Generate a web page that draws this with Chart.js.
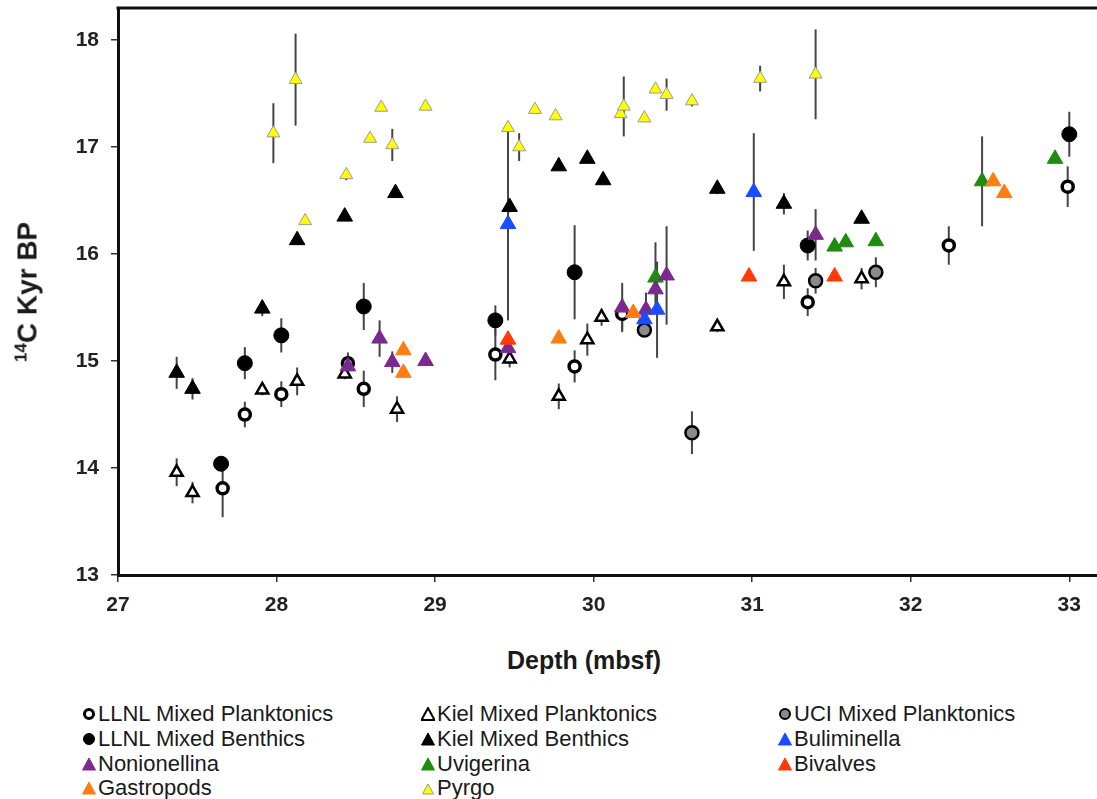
<!DOCTYPE html>
<html>
<head>
<meta charset="utf-8">
<script src="https://cdn.jsdelivr.net/npm/chart.js@4.4.1/dist/chart.umd.min.js"></script>
<style>
  html, body { margin: 0; padding: 0; background: #fff; overflow: hidden; width: 1097px; height: 799px; }
  body { position: relative; font-family: 'Liberation Sans', Arial, sans-serif; color: #1a1a1a; }
  #wrap { position: absolute; left: 0; top: 0; width: 1101px; height: 640px; }
  .ytitle { position: absolute; left: 27px; top: 292px; transform: translate(-50%, -50%) rotate(-90deg);
            font-weight: bold; font-size: 28px; white-space: nowrap; line-height: 1; }
  .ytitle sup { font-size: 17px; vertical-align: 10px; }
  .xtitle { position: absolute; left: 584px; top: 660px; transform: translate(-50%, -50%);
            font-weight: bold; font-size: 25px; white-space: nowrap; }
  .leg { position: absolute; display: flex; align-items: center; font-size: 22px; white-space: nowrap; height: 25px; }
  .leg svg { margin-right: 2px; }
</style>
</head>
<body>
<div id="wrap"><canvas id="chart"></canvas></div>
<div class="ytitle"><sup>14</sup>C Kyr BP</div>
<div class="xtitle">Depth (mbsf)</div>
<div id="legend"></div>
<script>
// [depth mbsf, 14C kyr BP, error]
const llnlPlanktonics = [
  [27.66, 13.81, 0.27], [27.80, 14.50, 0.12], [28.03, 14.69, 0.12], [28.45, 14.98, 0.10],
  [28.55, 14.74, 0.17], [29.38, 15.06, 0.24], [29.88, 14.95, 0.15], [30.18, 15.44, 0.15],
  [31.35, 15.55, 0.13], [32.24, 16.08, 0.18], [32.99, 16.63, 0.19]
];
const kielPlanktonics = [
  [27.37, 13.96, 0.13], [27.47, 13.77, 0.10], [27.91, 14.73, 0.05], [28.13, 14.81, 0.13],
  [28.43, 14.88, 0.05], [28.76, 14.55, 0.12], [29.47, 15.02, 0.08], [29.78, 14.67, 0.12],
  [29.96, 15.20, 0.15], [30.05, 15.41, 0.08], [30.78, 15.32, 0.05], [31.20, 15.74, 0.16],
  [31.69, 15.77, 0.10]
];
const uciPlanktonics = [
  [30.32, 15.29, 0.05], [30.62, 14.33, 0.20], [31.40, 15.75, 0.12], [31.78, 15.83, 0.14]
];
const llnlBenthics = [
  [27.65, 14.04, 0.05], [27.80, 14.98, 0.15], [28.03, 15.24, 0.16], [28.55, 15.51, 0.22],
  [29.38, 15.38, 0.14], [29.88, 15.83, 0.44], [31.35, 16.08, 0.14], [33.00, 17.12, 0.21]
];
const kielBenthics = [
  [27.37, 14.89, 0.15], [27.47, 14.74, 0.10], [27.91, 15.49, 0.07], [28.13, 16.13, 0.03],
  [28.43, 16.35, 0.03], [28.75, 16.57, 0.03], [29.47, 16.44, 0.05], [29.78, 16.82, 0.03],
  [29.96, 16.89, 0.03], [30.06, 16.69, 0.03], [30.78, 16.61, 0.05], [31.20, 16.47, 0.10],
  [31.69, 16.33, 0.03]
];
const buliminella = [
  [29.46, 16.28, 0.90], [30.32, 15.39, 0], [30.40, 15.48, 0.45], [31.01, 16.58, 0.55]
];
const nonionellina = [
  [28.45, 14.95, 0], [28.65, 15.21, 0.17], [28.73, 14.99, 0.10], [28.94, 15.00, 0],
  [29.46, 15.12, 0], [30.18, 15.50, 0.23], [30.33, 15.48, 0.16], [30.39, 15.67, 0],
  [30.46, 15.80, 0.46], [31.40, 16.18, 0.24]
];
const uvigerina = [
  [30.39, 15.78, 0.33], [31.52, 16.07, 0], [31.59, 16.11, 0], [31.78, 16.12, 0],
  [32.45, 16.68, 0.42], [32.91, 16.89, 0]
];
const bivalves = [
  [29.46, 15.20, 0], [30.98, 15.79, 0], [31.52, 15.79, 0]
];
const gastropods = [
  [28.80, 15.10, 0], [28.80, 14.89, 0], [29.78, 15.21, 0], [30.25, 15.45, 0],
  [32.52, 16.68, 0], [32.59, 16.57, 0]
];
const pyrgo = [
  [27.98, 17.13, 0.28], [28.12, 17.63, 0.43], [28.18, 16.31, 0], [28.44, 16.74, 0.05],
  [28.59, 17.08, 0], [28.66, 17.37, 0], [28.73, 17.02, 0.15], [28.94, 17.38, 0],
  [29.46, 17.18, 0], [29.53, 17.00, 0.13], [29.63, 17.35, 0], [29.76, 17.29, 0],
  [30.17, 17.31, 0], [30.19, 17.38, 0.28], [30.32, 17.27, 0], [30.39, 17.54, 0.03],
  [30.46, 17.49, 0.15], [30.62, 17.43, 0.05], [31.05, 17.64, 0.12], [31.40, 17.68, 0.42]
];

const xTicks = [27, 28, 29, 30, 31, 32, 33];
const yTicks = [13, 14, 15, 16, 17, 18];

function series(label, rows, shape, r, fill, stroke, bw, order) {
  return {
    label,
    data: rows.map(p => ({ x: p[0], y: p[1] })),
    errors: rows.map(p => p[2]),
    pointStyle: shape,
    pointRadius: r,
    pointBackgroundColor: fill,
    pointBorderColor: stroke,
    pointBorderWidth: bw,
    order
  };
}

const datasets = [
  series('LLNL Mixed Planktonics', llnlPlanktonics, 'circle', 5.5, '#fff', '#000', 3.5, 2),
  series('Kiel Mixed Planktonics', kielPlanktonics, 'triangle', 7, '#fff', '#000', 2.5, 2),
  series('UCI Mixed Planktonics', uciPlanktonics, 'circle', 6.5, '#8a8a8a', '#000', 2.5, 2),
  series('LLNL Mixed Benthics', llnlBenthics, 'circle', 7.5, '#000', '#000', 1, 2),
  series('Kiel Mixed Benthics', kielBenthics, 'triangle', 9, '#000', '#000', 1, 2),
  series('Buliminella', buliminella, 'triangle', 9, '#1a4dff', '#1a4dff', 1, 1),
  series('Nonionellina', nonionellina, 'triangle', 9, '#7a2a8c', '#7a2a8c', 1, 1),
  series('Uvigerina', uvigerina, 'triangle', 9, '#1f8c10', '#1f8c10', 1, 1),
  series('Bivalves', bivalves, 'triangle', 9, '#ff3a0a', '#ff3a0a', 1, 0),
  series('Gastropods', gastropods, 'triangle', 9, '#ff7d12', '#ff7d12', 1, 0),
  series('Pyrgo', pyrgo, 'triangle', 7.5, '#ffff00', '#9a9a9a', 1, 1)
];

// vertical error bars, drawn under the markers
const errorBars = {
  id: 'errorBars',
  beforeDatasetsDraw(chart) {
    const { ctx, scales: { x, y }, chartArea } = chart;
    ctx.save();
    ctx.beginPath();
    ctx.rect(chartArea.left, chartArea.top, chartArea.width, chartArea.height);
    ctx.clip();
    ctx.strokeStyle = '#444';
    ctx.lineWidth = 2;
    chart.data.datasets.forEach(ds => {
      ds.errors.forEach((e, j) => {
        if (!e) return;
        const p = ds.data[j];
        const px = x.getPixelForValue(p.x);
        ctx.beginPath();
        ctx.moveTo(px, y.getPixelForValue(p.y - e));
        ctx.lineTo(px, y.getPixelForValue(p.y + e));
        ctx.stroke();
      });
    });
    ctx.restore();
  }
};

// top edge of the frame
const topFrame = {
  id: 'topFrame',
  afterDraw(chart) {
    const { ctx, chartArea } = chart;
    ctx.save();
    ctx.strokeStyle = '#111';
    ctx.lineWidth = 3;
    ctx.beginPath();
    ctx.moveTo(chartArea.left - 1.5, chartArea.top);
    ctx.lineTo(chartArea.right, chartArea.top);
    ctx.stroke();
    ctx.restore();
  }
};

const tickFont = { family: "'Liberation Sans', Arial, sans-serif", size: 21, weight: 'bold' };

new Chart(document.getElementById('chart'), {
  type: 'scatter',
  data: { datasets },
  options: {
    responsive: true,
    maintainAspectRatio: false,
    animation: false,
    layout: { autoPadding: false, padding: { top: 8, left: 0, right: 0, bottom: 0 } },
    plugins: { legend: { display: false }, tooltip: { enabled: false } },
    scales: {
      x: {
        type: 'linear',
        min: 27, max: 33.2,
        afterBuildTicks: s => { s.ticks = xTicks.map(v => ({ value: v })); },
        afterFit: s => { s.height = 65; s.paddingLeft = 0; s.paddingRight = 0; },
        ticks: { font: tickFont, color: '#222', padding: 11 },
        grid: { drawOnChartArea: false, drawTicks: true, tickLength: 7, color: '#333', lineWidth: 1.5 },
        border: { color: '#111', width: 3 }
      },
      y: {
        type: 'linear',
        min: 13, max: 18.3,
        afterBuildTicks: s => { s.ticks = yTicks.map(v => ({ value: v })); },
        afterFit: s => { s.width = 118; s.paddingTop = 0; s.paddingBottom = 0; },
        ticks: { font: tickFont, color: '#222', padding: 12 },
        grid: { drawOnChartArea: false, drawTicks: true, tickLength: 7, color: '#333', lineWidth: 1.5 },
        border: { color: '#111', width: 3 }
      }
    }
  },
  plugins: [errorBars, topFrame]
});

// ── legend in three columns ──
const legendCols = [89, 428, 785];
const legendRows = [714, 739, 764, 788];
function markerSvg(ds) {
  const f = ds.pointBackgroundColor, s = ds.pointBorderColor;
  if (ds.pointStyle === 'circle') {
    const sw = ds.label.startsWith('LLNL Mixed P') ? 3 : (f === '#000' ? 1 : 2);
    return `<svg width="14" height="14"><circle cx="7" cy="7" r="${6 - sw / 2}" fill="${f}" stroke="${s}" stroke-width="${sw}"/></svg>`;
  }
  const small = ds.label === 'Pyrgo';
  const sw = f === '#fff' ? 2 : 1;
  const pts = small ? '7,3 12.5,13 1.5,13' : '7,1 13.5,13 0.5,13';
  return `<svg width="14" height="14"><polygon points="${pts}" fill="${f}" stroke="${s}" stroke-width="${sw}" stroke-linejoin="miter"/></svg>`;
}
const legendEl = document.getElementById('legend');
datasets.forEach((ds, i) => {
  const col = i % 3, row = Math.floor(i / 3);
  const d = document.createElement('div');
  d.className = 'leg';
  d.style.left = (legendCols[col] - 7) + 'px';
  d.style.top = (legendRows[row] - 12.5) + 'px';
  d.innerHTML = markerSvg(ds) + '<span>' + ds.label + '</span>';
  legendEl.appendChild(d);
});
</script>
</body>
</html>
